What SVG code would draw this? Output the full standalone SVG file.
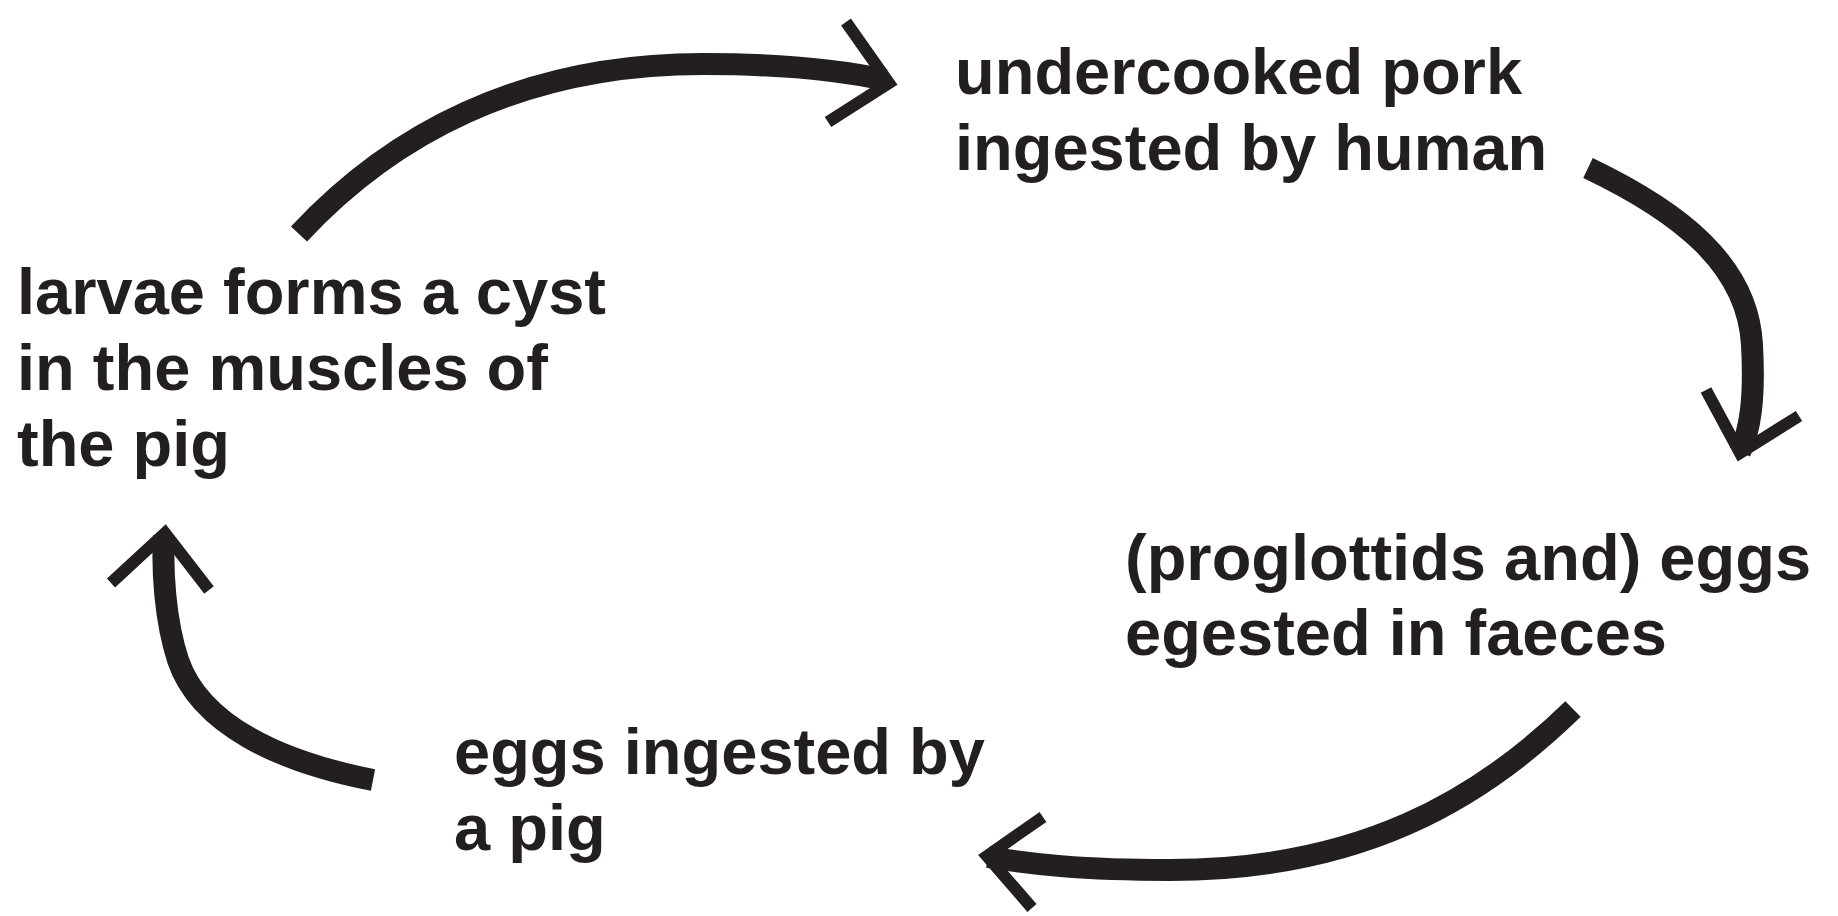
<svg xmlns="http://www.w3.org/2000/svg" width="1838" height="916" viewBox="0 0 1838 916">
<style>
.t{font-family:"Liberation Sans",Arial,sans-serif;font-weight:bold;font-size:65px;fill:#231f20}
.c{fill:none;stroke:#231f20;stroke-width:22}
.h{fill:none;stroke:#231f20;stroke-width:12;stroke-linejoin:miter;stroke-miterlimit:10}
</style>
<rect width="1838" height="916" fill="#fff"/>
<g id="node-pork">
<text class="t" x="955" y="94">undercooked pork</text>
<text class="t" x="955" y="170">ingested by human</text>
</g>
<g id="node-eggs-faeces">
<text class="t" x="1125" y="580">(proglottids and) eggs</text>
<text class="t" x="1125" y="655">egested in faeces</text>
</g>
<g id="node-eggs-pig">
<text class="t" x="454" y="774">eggs ingested by</text>
<text class="t" x="454" y="850">a pig</text>
</g>
<g id="node-larvae">
<text class="t" x="17" y="314">larvae forms a cyst</text>
<text class="t" x="17" y="390">in the muscles of</text>
<text class="t" x="17" y="466">the pig</text>
</g>
<g id="connectors">
<path class="c" d="M299,234 C390,136 520,64 703,64 C780,64 840,70 885,80"/>
<polyline class="h" points="846,22 889,83 828,122"/>
<path class="c" d="M1588,168 C1680,212 1748,265 1752,345 C1755,400 1750,430 1740,452"/>
<polyline class="h" points="1706,390 1740,453 1799,416"/>
<path class="c" d="M1573,709 C1480,800 1360,870 1170,870 C1080,870 1030,864 988,857"/>
<polyline class="h" points="1043,817 987,856 1032,908"/>
<path class="c" d="M373,780 C280,762 200,725 178,660 C165,620 162,570 164,536"/>
<polyline class="h" points="111,583 165,533 209,590"/>
</g>
</svg>
